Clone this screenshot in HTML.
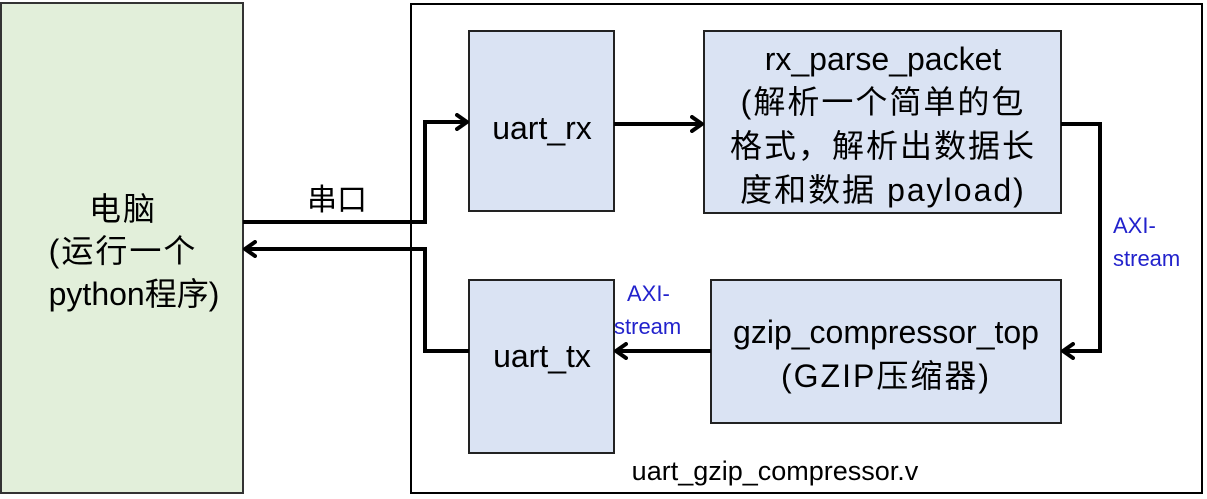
<!DOCTYPE html>
<html><head><meta charset="utf-8"><style>
body{margin:0;background:#fff;width:1207px;height:499px;overflow:hidden}
svg{display:block}
text{font-family:"Liberation Sans","Noto Sans CJK SC",sans-serif;fill:#000}
.c{letter-spacing:2px}
</style></head><body>
<svg width="1207" height="499" viewBox="0 0 1207 499">
<defs><marker id="a" markerWidth="14" markerHeight="18" refX="12" refY="9" orient="auto" markerUnits="userSpaceOnUse"><path d="M2,2 L12,9 L2,16" fill="none" stroke="#000" stroke-width="4" stroke-linecap="round"/></marker></defs>
<rect x="1" y="3" width="242" height="490" fill="#e2efda" stroke="#333" stroke-width="2"/>
<rect x="411" y="4" width="791" height="489" fill="#fff" stroke="#000" stroke-width="2"/>
<rect x="469" y="31" width="145" height="180" fill="#dae3f3" stroke="#222" stroke-width="2"/>
<rect x="704" y="31" width="357" height="182" fill="#dae3f3" stroke="#222" stroke-width="2"/>
<rect x="469" y="280" width="145" height="173" fill="#dae3f3" stroke="#222" stroke-width="2"/>
<rect x="711" y="280" width="350" height="143" fill="#dae3f3" stroke="#222" stroke-width="2"/>
<g fill="none" stroke="#000" stroke-width="4">
<polyline points="243,222 425,222 425,122 467,122" marker-end="url(#a)"/>
<polyline points="614,124 702,124" marker-end="url(#a)"/>
<polyline points="1061,124 1100,124 1100,351 1063,351" marker-end="url(#a)"/>
<polyline points="711,351 616,351" marker-end="url(#a)"/>
<polyline points="469,351 425,351 425,249 245,249" marker-end="url(#a)"/>
</g>
<g font-size="32" text-anchor="middle">
<text x="123" y="220" class="c">电脑</text>
<text x="123" y="262" class="c">(运行一个</text>
<text x="134" y="305">python程序)</text>
<text x="542" y="139">uart_rx</text>
<text x="542" y="367">uart_tx</text>
<text x="883" y="70">rx_parse_packet</text>
<text x="883" y="113" class="c">(解析一个简单的包</text>
<text x="883" y="157" class="c">格式，解析出数据长</text>
<text x="883" y="201" class="c">度和数据 payload)</text>
<text x="886" y="343">gzip_compressor_top</text>
<text x="886" y="387" class="c">(GZIP压缩器)</text>
<text x="337" y="210" font-size="30">串口</text>
<text x="775" y="480" font-size="27">uart_gzip_compressor.v</text>
</g>
<g font-size="22">
<text x="1113" y="233" style="fill:#22c">AXI-</text>
<text x="1113" y="266" style="fill:#22c">stream</text>
<text x="627" y="301" style="fill:#22c">AXI-</text>
<text x="614" y="334" style="fill:#22c">stream</text>
</g>
</svg>
</body></html>
